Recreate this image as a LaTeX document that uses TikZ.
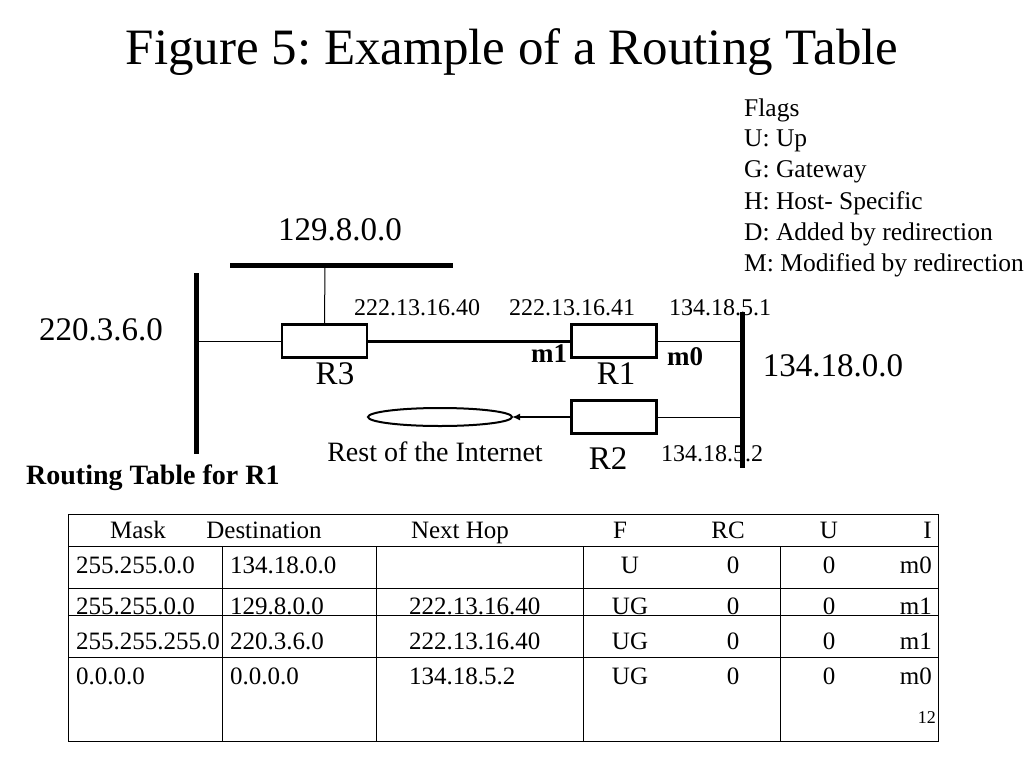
\documentclass[tikz,border=0pt]{standalone}
\usepackage{fontspec}
\setmainfont{Liberation Serif}
\usetikzlibrary{arrows.meta}
\frenchspacing
\begin{document}
\begin{tikzpicture}[x=1pt,y=-1pt,
  box/.style={draw,line width=2.5pt,minimum width=85pt,minimum height=33pt,inner sep=0},
  bus/.style={line width=5pt},
  thin/.style={line width=1pt},
  ip/.style={font=\fontsize{24}{24}\selectfont},
  big/.style={font=\fontsize{33}{33}\selectfont},
  cell/.style={font=\fontsize{25}{25}\selectfont},
  every node/.style={inner sep=0}]
\useasboundingbox (0,0) rectangle (1024,768);
\node (title) at (512,52) {\fontsize{51}{51}\selectfont Figure 5: Example of a Routing Table};
% flags
\foreach \t [count=\i from 0] in {Flags,U: Up,G: Gateway,H: Host- Specific,D: Added by redirection,M: Modified by redirection}
  \node[anchor=west,font=\fontsize{25.5}{25.5}\selectfont] (f\i) at (744,110+31*\i) {\t};
% buses
\coordinate (lt) at (196,273); \coordinate (lb) at (196,454);
\coordinate (tl) at (230,265); \coordinate (tr) at (453,265);
\coordinate (rt) at (742,312); \coordinate (rb) at (742,468);
\draw[bus] (lt) -- (lb);
\draw[bus] (tl) -- (tr);
\draw[bus] (rt) -- (rb);
\node[box] (R3) at (324.5,341) {};
\node[box] (R1) at (614,341) {};
\node[box] (R2) at (614,417) {};
\draw[line width=2pt] (440,417) ellipse (72 and 9);
\coordinate (ell) at (512,417);
\draw[thin] (325,265) -- (R3.north);
\draw[thin] (196,341) -- (R3.west);
\draw[line width=3pt] (R3.east) -- (R1.west);
\draw[thin] (R1.east) -- (742,341);
\draw[thin] (R2.east) -- (742,417);
\draw[line width=2pt,-{Latex[length=8pt,width=7pt]}] (R2.west) -- (ell);
% labels
\node[big] (n129) at (340,230) {129.8.0.0};
\node[big] (n220) at (101,330) {220.3.6.0};
\node[big] (n134) at (833,366) {134.18.0.0};
\node[big] (lR3) at (335,374) {R3};
\node[big] (lR1) at (616,374) {R1};
\node[big] (lR2) at (608,459) {R2};
\node[font=\bfseries\fontsize{27}{27}\selectfont] (m1) at (549,354) {m1};
\node[font=\bfseries\fontsize{27}{27}\selectfont] (m0) at (685,357) {m0};
\node[ip] (i1) at (417,308) {222.13.16.40};
\node[ip] (i2) at (572,308) {222.13.16.41};
\node[ip] (i3) at (720,308) {134.18.5.1};
\node[ip] (i4) at (712,454) {134.18.5.2};
\node[font=\fontsize{28}{28}\selectfont] (rest) at (435,452) {Rest of the Internet};
\node[font=\bfseries\fontsize{28}{28}\selectfont,anchor=west] (rt1) at (26,478) {Routing Table for R1};
% table
\draw[thin] (68,514) rectangle (938,741);
\draw[thin] (68,546) -- (938,546);
\draw[thin] (68,588) -- (938,588);
\draw[thin] (68,615) -- (938,615);
\draw[thin] (68,657) -- (938,657);
\foreach \x in {222,376,583,780} \draw[thin] (\x,546) -- (\x,741);
\foreach \t/\x in {Mask/138,Destination/264,Next Hop/460,F/620,RC/728,U/829} \node[cell,anchor=base] at (\x,538) {\t};
\node[cell,anchor=base east] at (932,538) {I};
\foreach \y/\a/\b/\c/\d/\e/\f/\g in {
 565/255.255.0.0/134.18.0.0/{}/U/0/0/m0,
 606/255.255.0.0/129.8.0.0/222.13.16.40/UG/0/0/m1,
 641/255.255.255.0/220.3.6.0/222.13.16.40/UG/0/0/m1,
 676/0.0.0.0/0.0.0.0/134.18.5.2/UG/0/0/m0}{
  \node[cell,anchor=west] at (76,\y) {\a};
  \node[cell,anchor=west] at (230,\y) {\b};
  \node[cell,anchor=west] at (409,\y) {\c};
  \node[cell] at (630,\y) {\d};
  \node[cell] at (733,\y) {\e};
  \node[cell] at (829,\y) {\f};
  \node[cell,anchor=east] at (932,\y) {\g};
}
\node[font=\fontsize{18}{18}\selectfont,anchor=east] (pg) at (936,718) {12};
\end{tikzpicture}
\end{document}
